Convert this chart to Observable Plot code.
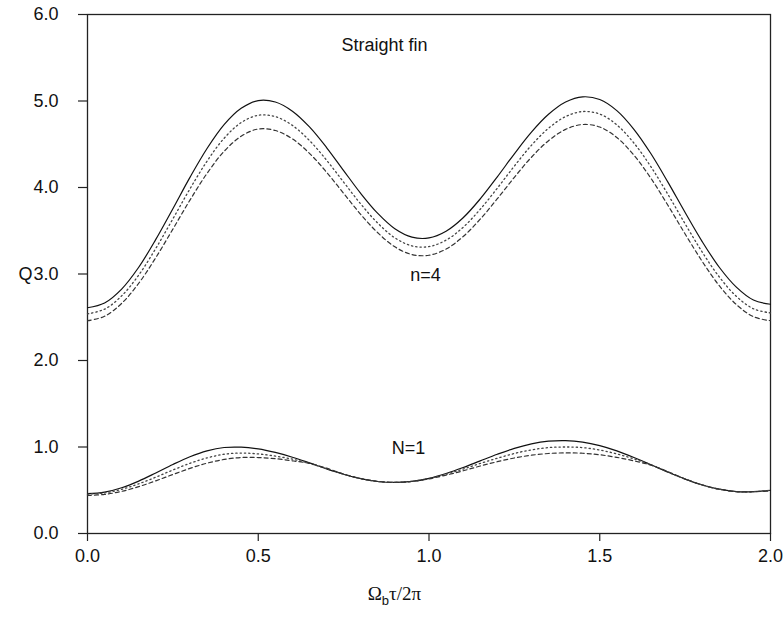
<!DOCTYPE html>
<html>
<head>
<meta charset="utf-8">
<script src="https://cdn.jsdelivr.net/npm/d3@7"></script>
<script src="https://cdn.jsdelivr.net/npm/@observablehq/plot@0.6"></script>
<style>
  html, body { margin: 0; padding: 0; background: #fff; }
  #chart svg { display: block; }
</style>
</head>
<body>
<div id="chart"></div>
<script>
// Phase Ωbτ/2π
const xs = [0,0.05,0.1,0.15,0.2,0.25,0.3,0.35,0.4,0.45,0.5,0.55,0.6,0.65,0.7,0.75,0.8,0.85,0.9,0.95,1,1.05,1.1,1.15,1.2,1.25,1.3,1.35,1.4,1.45,1.5,1.55,1.6,1.65,1.7,1.75,1.8,1.85,1.9,1.95,2];

// n=4 group
const n4Solid  = [2.61,2.665,2.826,3.078,3.40,3.755,4.117,4.451,4.727,4.916,5.005,4.988,4.882,4.70,4.462,4.196,3.932,3.70,3.523,3.426,3.417,3.494,3.650,3.868,4.123,4.390,4.64,4.846,4.988,5.048,5.017,4.889,4.673,4.39,4.059,3.711,3.375,3.078,2.848,2.699,2.65];
const n4Dotted = [2.54,2.593,2.747,2.988,3.296,3.637,3.984,4.304,4.569,4.75,4.835,4.819,4.718,4.543,4.316,4.062,3.81,3.588,3.418,3.325,3.317,3.391,3.54,3.748,3.992,4.248,4.488,4.685,4.82,4.878,4.849,4.724,4.514,4.239,3.918,3.58,3.254,2.966,2.742,2.598,2.55];
const n4Dashed = [2.46,2.511,2.66,2.893,3.189,3.519,3.854,4.163,4.418,4.593,4.676,4.659,4.562,4.395,4.177,3.933,3.69,3.477,3.314,3.225,3.217,3.288,3.433,3.634,3.87,4.118,4.35,4.541,4.672,4.728,4.699,4.578,4.374,4.106,3.792,3.463,3.146,2.865,2.647,2.507,2.46];

// N=1 group
const N1Solid  = [0.46,0.478,0.529,0.606,0.700,0.798,0.887,0.955,0.994,0.998,0.978,0.937,0.882,0.816,0.747,0.685,0.634,0.601,0.59,0.602,0.638,0.694,0.763,0.840,0.916,0.984,1.036,1.067,1.074,1.057,1.016,0.955,0.879,0.795,0.709,0.629,0.561,0.512,0.484,0.483,0.50];
const N1Dotted = [0.455,0.469,0.511,0.574,0.651,0.734,0.811,0.874,0.916,0.93,0.92,0.895,0.86,0.81,0.749,0.686,0.634,0.601,0.59,0.602,0.635,0.685,0.745,0.81,0.87,0.925,0.967,0.993,1.0,0.993,0.965,0.92,0.862,0.795,0.709,0.629,0.561,0.512,0.484,0.483,0.50];
const N1Dashed = [0.44,0.452,0.487,0.542,0.609,0.682,0.753,0.813,0.856,0.879,0.878,0.865,0.84,0.81,0.755,0.688,0.636,0.603,0.592,0.603,0.632,0.675,0.725,0.78,0.83,0.873,0.905,0.925,0.932,0.928,0.91,0.88,0.84,0.79,0.715,0.631,0.562,0.512,0.484,0.483,0.49];

const xTicks = [0, 0.5, 1, 1.5, 2];
const yTicks = [0, 1, 2, 3, 4, 5, 6];

const labels = [
  {text: "Straight fin", x: 0.87, y: 5.64},
  {text: "n=4", x: 0.99, y: 2.98},
  {text: "N=1", x: 0.94, y: 0.99}
];

function rows(ys, series) { return xs.map((x, i) => ({x, y: ys[i], series})); }
const solid  = [...rows(n4Solid, "n4"), ...rows(N1Solid, "N1")];
const dotted = [...rows(n4Dotted, "n4"), ...rows(N1Dotted, "N1")];
const dashed = [...rows(n4Dashed, "n4"), ...rows(N1Dashed, "N1")];

const font = "'Liberation Sans', Arial, sans-serif";

const plot = Plot.plot({
  width: 784,
  height: 618,
  marginLeft: 87,
  marginRight: 14,
  marginTop: 14,
  marginBottom: 85,
  style: {fontFamily: font, fontSize: "18px", color: "#111", background: "#fff"},
  x: {domain: [0, 2]},
  y: {domain: [0, 6]},
  marks: [
    Plot.frame({stroke: "#222", strokeWidth: 1.3}),
    Plot.axisY(yTicks, {tickSize: 9, tickPadding: 20, tickFormat: d3.format(".1f"), fontSize: 18, label: null, stroke: "#222", strokeWidth: 1.2}),
    Plot.axisX(xTicks, {tickSize: 8, tickPadding: 8, tickFormat: d3.format(".1f"), fontSize: 18, label: null, stroke: "#222", strokeWidth: 1.2}),
    Plot.line(solid,  {x: "x", y: "y", z: "series", stroke: "#111", strokeWidth: 1.2, curve: "catmull-rom"}),
    Plot.line(dotted, {x: "x", y: "y", z: "series", stroke: "#444", strokeWidth: 1.3, strokeDasharray: "1.3,3", curve: "catmull-rom"}),
    Plot.line(dashed, {x: "x", y: "y", z: "series", stroke: "#333", strokeWidth: 1.2, strokeDasharray: "4,3", curve: "catmull-rom"}),
    Plot.text(labels, {x: "x", y: "y", text: "text", fontSize: 18, fill: "#111"}),
    Plot.text(["Q"], {frameAnchor: "left", y: 3, dx: -69, textAnchor: "start", fontSize: 18, fill: "#111"})
  ]
});

document.getElementById("chart").appendChild(plot);

// x-axis title with subscript
const svg = d3.select(plot);
const xs0 = plot.scale("x").apply(0.9);
const t = svg.append("text")
  .attr("x", xs0)
  .attr("y", 600)
  .attr("text-anchor", "middle")
  .attr("fill", "#111")
  .style("font-family", "'Liberation Serif', 'DejaVu Serif', serif")
  .style("font-size", "19px");
t.append("tspan").text("Ω");
t.append("tspan").attr("dy", 5).style("font-size", "13px").style("font-family", font).text("b");
t.append("tspan").attr("dy", -5).text("τ/2π");
</script>
</body>
</html>
